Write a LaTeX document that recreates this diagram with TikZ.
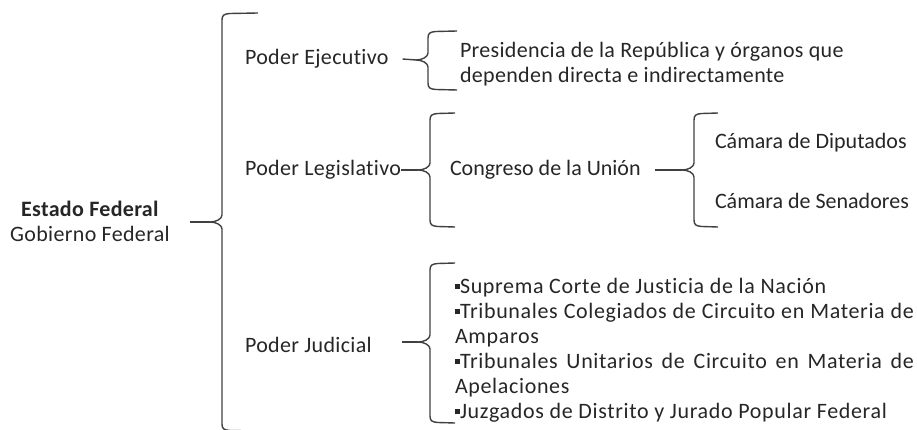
\documentclass[tikz,border=0pt]{standalone}
\usepackage{fontspec}
\defaultfontfeatures{Ligatures=CommonOff}
\setmainfont{Carlito}
\newfontfamily\spacedfont[LetterSpace=1.5,Ligatures=CommonOff]{Carlito}
\newfontfamily\widefont[LetterSpace=3,Ligatures=CommonOff]{Carlito}
\tikzset{
  txt/.style={inner sep=0pt, outer sep=0pt, text=black!85, font=\spacedfont\fontsize{22}{25}\selectfont},
  plain/.style={txt, font=\fontsize{22}{25}\selectfont},
  listtxt/.style={txt, font=\widefont\fontsize{22}{25}\selectfont},
  bracestyle/.style={draw=black!75, line width=1.4pt, line join=round},
  conn/.style={draw=black!75, line width=1.4pt},
}
% #1 vertical x, #2 top y, #3 mid y, #4 bottom y, #5 arm end x
\newcommand\drawbrace[5]{%
  \draw[bracestyle] (#5,#2) -- (#1+8,#2+0.5) .. controls (#1+2,#2+1) and (#1,#2+2) .. (#1,#2+7)
    -- (#1,#3-7) .. controls (#1,#3-3) and (#1-6,#3) .. (#1-12,#3)
    .. controls (#1-6,#3) and (#1,#3+3) .. (#1,#3+7)
    -- (#1,#4-7) .. controls (#1,#4-2) and (#1+2,#4-1) .. (#1+8,#4-0.5) -- (#5,#4);}
\newcommand\bul{\raisebox{4pt}{\rule{5pt}{5pt}}}
\begin{document}
\begin{tikzpicture}[x=1pt,y=-1pt]
\useasboundingbox (0,0) rectangle (917,430);
\begin{scope}
\clip (0,0) rectangle (917,430);
% nodes
\node[txt, align=center] (estado) at (90,221) {\textbf{Estado Federal}\\Gobierno Federal};
\node[txt, anchor=west] (ejec) at (245,59) {Poder Ejecutivo};
\node[txt, anchor=west] (legis) at (245,170) {Poder Legislativo};
\node[txt, anchor=west] (judic) at (245,345) {Poder Judicial};
\node[txt, anchor=west, align=left] (presid) at (460,64) {Presidencia de la República y órganos que\\dependen directa e indirectamente};
\node[plain, anchor=west] (congreso) at (450,170) {Congreso de la Unión};
\node[plain, anchor=west] (diput) at (715,143) {Cámara de Diputados};
\node[plain, anchor=west] (senad) at (715,201) {Cámara de Senadores};
\node[listtxt, anchor=west, align=left] (tribs) at (455,350) {%
\bul Suprema Corte de Justicia de la Nación\\
\makebox[459pt][s]{\bul Tribunales Colegiados de Circuito en Materia de}\\
Amparos\\
\makebox[459pt][s]{\bul Tribunales Unitarios de Circuito en Materia de}\\
Apelaciones\\
\bul Juzgados de Distrito y Jurado Popular Federal};
% brace tips
\coordinate (t0) at (210,222);
\coordinate (t1) at (416,60);
\coordinate (t2) at (418,170);
\coordinate (t3) at (682,170);
\coordinate (t4) at (418,342);
% braces
\drawbrace{222}{13}{222}{431}{258}
\drawbrace{428}{31}{60}{90}{457}
\drawbrace{430}{113}{170}{227}{455}
\drawbrace{694}{113}{170}{227}{718}
\drawbrace{430}{263}{342}{423}{455}
% connectors
\draw[conn] (estado.east |- t0) ++(20,0) -- (t0);
\draw[conn] (ejec.east) ++(14,0) -- (t1);
\draw[conn] (legis.east |- t2) -- (t2);
\draw[conn] (congreso.east |- t3) ++(14,0) -- (t3);
\draw[conn] (judic.east |- t4) ++(30,0) -- (t4);
\end{scope}
\end{tikzpicture}
\end{document}
